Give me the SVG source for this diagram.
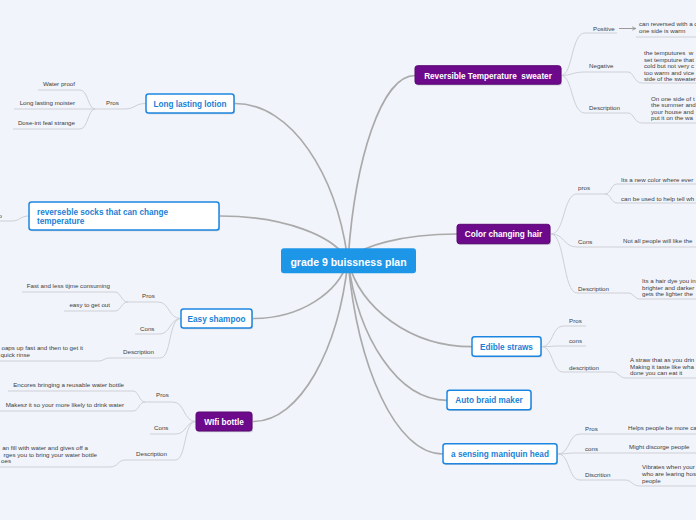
<svg xmlns="http://www.w3.org/2000/svg" width="696" height="520" viewBox="0 0 696 520">
<defs>
<marker id="arr" viewBox="0 0 10 10" refX="9" refY="5" markerWidth="5" markerHeight="5" orient="auto"><path d="M0,1 L9,5 L0,9" fill="none" stroke="#9a9a9a" stroke-width="1.5"/></marker>
</defs>
<style>
.main{fill:none;stroke:#aaaaaa;stroke-width:1.7}
.br{fill:none;stroke:#cdd0d6;stroke-width:1}
.sh{fill:#b9bdc8;opacity:.7}
.pur{fill:#6d0a8b;stroke:#5a0873;stroke-width:1}
.blu{fill:#ffffff;stroke:#1d86e0;stroke-width:1.5}
.root{fill:#1e96e8}
.tw{font-family:"Liberation Sans",Arial,sans-serif;font-weight:bold;font-size:8.2px;fill:#ffffff;text-anchor:middle}
.tb{font-family:"Liberation Sans",Arial,sans-serif;font-weight:bold;font-size:8.2px;fill:#1b7fd6;text-anchor:middle}
.lb{font-family:"Liberation Sans",Arial,sans-serif;font-size:6.2px;fill:#3c3c3c}
.e{text-anchor:end}
</style>
<rect x="0" y="0" width="696" height="520" fill="#f2f4fb"/>
<g id="connectors">
<path class="main" d="M348,261 C354.7,159 381.5,75.5 415,75.5"/>
<path class="main" d="M348,261 C359,246 402.5,234 457,234"/>
<path class="main" d="M348,261 C360.4,308 410,346.7 472,346.7"/>
<path class="main" d="M348,261 C358,337.5 397.5,400.3 447,400.3"/>
<path class="main" d="M348,261 C357.5,367 395.5,454 443,454"/>
<path class="main" d="M348,261 C336.7,174 291.5,103.5 235,103.5"/>
<path class="main" d="M348,261 C335,236 284,216 220,216"/>
<path class="main" d="M348,261 C338.5,292.6 300.5,318.5 253,318.5"/>
<path class="main" d="M348,261 C338.5,349 300.5,421.5 253,421.5"/>
<path class="br" d="M561,75.5 C573,75.5 571,33 585,33 L617,33"/>
<path d="M619,28.5 L636,28.5" marker-end="url(#arr)" stroke="#9a9a9a" fill="none" stroke-width="1"/>
<path class="br" d="M636,37 L696,37"/>
<path class="br" d="M561,75.5 C572,75.5 572,72 585,72 L628,72 C634,72 634,83 642,83 L696,83"/>
<path class="br" d="M561,75.5 C573,75.5 571,113 585,113 L628,113 C634,113 634,123 642,123 L696,123"/>
<path class="br" d="M551,234 C565,234 563,194 577,194 L605,194 C611,194 611,184 617,184 L696,184"/>
<path class="br" d="M605,194 C611,194 611,203 617,203 L696,203"/>
<path class="br" d="M551,234 C565,234 563,247 577,247 L696,247"/>
<path class="br" d="M551,234 C565,234 563,293 577,293 L628,293 C634,293 634,299 640,299 L696,299"/>
<path class="br" d="M542,346.7 C553,346.7 552,326 563,326 L586,326"/>
<path class="br" d="M542,346.7 C550,346.7 552,346 560,346 L586,346"/>
<path class="br" d="M542,346.7 C553,346.7 552,372 563,372 L612,372 C619,372 619,378 626,378 L696,378"/>
<path class="br" d="M558,454 C570,454 568,434 580,434 L696,434"/>
<path class="br" d="M558,454 C566,454 568,453 576,453 L696,453"/>
<path class="br" d="M558,454 C570,454 568,480 580,480 L625,480 C632,480 632,486 640,486 L696,486"/>
<path class="br" d="M146,103.5 C134,103.5 136,109 124,109 L95,109"/>
<path class="br" d="M95,109 C88,109 88,90 80,90 L38,90"/>
<path class="br" d="M95,109 L14,109"/>
<path class="br" d="M95,109 C88,109 88,129 80,129 L13,129"/>
<path class="br" d="M29,216 C20,216 20,221 12,221 L0,221"/>
<path class="br" d="M181,318.5 C168,318.5 170,302 158,302 L128,302"/>
<path class="br" d="M128,302 C121,302 121,292 115,292 L22,292"/>
<path class="br" d="M128,302 C121,302 121,311 115,311 L64,311"/>
<path class="br" d="M181,318.5 C170,318.5 170,334 160,334 L135,334"/>
<path class="br" d="M181,318.5 C168,318.5 172,358 160,358 L110,358 C104,358 104,361 98,361 L0,361"/>
<path class="br" d="M196,421.5 C183,421.5 185,402 173,402 L145,402"/>
<path class="br" d="M145,402 C139,402 139,391 133,391 L8,391"/>
<path class="br" d="M145,402 C139,402 139,411 133,411 L0,411"/>
<path class="br" d="M196,421.5 C186,421.5 186,434 176,434 L150,434"/>
<path class="br" d="M196,421.5 C183,421.5 187,460 175,460 L125,460 C118,460 118,467 110,467 L0,467"/>
</g>
<g id="root">
<rect x="281" y="248.3" width="135" height="25" rx="3" class="root"/>
<text x="348.5" y="265.8" class="tw" style="font-size:10.5px">grade 9 buissness plan</text>
</g>
<g id="sweater">
<rect x="416" y="67" width="146" height="18.5" rx="2.5" class="sh"/>
<rect x="415" y="65.7" width="146" height="18.5" rx="2.5" class="pur"/>
<text x="488" y="78.6" class="tw" xml:space="preserve">Reversible Temperature  sweater</text>
<text x="593" y="31" class="lb">Positive</text>
<text x="639" y="26" class="lb">can reversed with a c</text>
<text x="639" y="33" class="lb">one side is warm</text>
<text x="589" y="68" class="lb">Negative</text>
<text x="644" y="54.5" class="lb" xml:space="preserve">the temputures  w</text>
<text x="644" y="61.5" class="lb">set temputure that</text>
<text x="644" y="68" class="lb">cold but not very c</text>
<text x="644" y="74.5" class="lb">too warm and vice</text>
<text x="644" y="81" class="lb">side of the sweater</text>
<text x="589" y="110" class="lb">Description</text>
<text x="651" y="100.5" class="lb">On one side of t</text>
<text x="651" y="107" class="lb">the summer and</text>
<text x="651" y="113.5" class="lb">your house and</text>
<text x="651" y="120" class="lb">put it on the wa</text>
</g>
<g id="hair">
<rect x="458" y="225.6" width="93" height="19.4" rx="2.5" class="sh"/>
<rect x="457" y="224.3" width="93" height="19.4" rx="2.5" class="pur"/>
<text x="503.5" y="237.2" class="tw">Color changing hair</text>
<text x="578" y="190" class="lb">pros</text>
<text x="621" y="181.5" class="lb">Its a new color where ever</text>
<text x="621" y="200.5" class="lb">can be used to help tell wh</text>
<text x="578" y="244" class="lb">Cons</text>
<text x="623" y="243" class="lb">Not all people will like the</text>
<text x="578" y="290.5" class="lb">Description</text>
<text x="642" y="283" class="lb">Its a hair dye you in</text>
<text x="642" y="289.5" class="lb">brighter and darker</text>
<text x="642" y="296" class="lb">gets the lighter the</text>
</g>
<g id="straws">
<rect x="473" y="338" width="69" height="19.5" rx="2.5" class="sh"/>
<rect x="472" y="336.7" width="69" height="19.5" rx="2.5" class="blu"/>
<text x="506.5" y="349.8" class="tb">Edible straws</text>
<text x="569" y="323" class="lb">Pros</text>
<text x="569" y="342.5" class="lb">cons</text>
<text x="569" y="369.5" class="lb">description</text>
<text x="630" y="362" class="lb">A straw that as you drin</text>
<text x="630" y="368.5" class="lb">Making it taste like wha</text>
<text x="630" y="375" class="lb">done you can eat it</text>
</g>
<g id="braid">
<rect x="448" y="391.6" width="84" height="19.5" rx="2.5" class="sh"/>
<rect x="447" y="390.3" width="84" height="19.5" rx="2.5" class="blu"/>
<text x="489" y="403.3" class="tb">Auto braid maker</text>
</g>
<g id="sensing">
<rect x="444" y="445" width="114" height="20" rx="2.5" class="sh"/>
<rect x="443" y="443.7" width="114" height="20" rx="2.5" class="blu"/>
<text x="500" y="457" class="tb">a sensing maniquin head</text>
<text x="585" y="430.5" class="lb">Pros</text>
<text x="628" y="430" class="lb">Helps people be more ca</text>
<text x="585" y="450.5" class="lb">cons</text>
<text x="629" y="449" class="lb">Might discorge people</text>
<text x="585" y="476.5" class="lb">Discrition</text>
<text x="642" y="469" class="lb">Vibrates when your</text>
<text x="642" y="475.5" class="lb">who are learing hos</text>
<text x="642" y="482.5" class="lb">people</text>
</g>
<g id="lotion">
<rect x="147" y="95.3" width="88" height="19" rx="2.5" class="sh"/>
<rect x="146" y="94" width="88" height="19" rx="2.5" class="blu"/>
<text x="190" y="106.5" class="tb">Long lasting lotion</text>
<text x="106" y="105.3" class="lb">Pros</text>
<text x="75" y="86.3" class="lb e">Water proof</text>
<text x="75" y="105.3" class="lb e">Long lasting moister</text>
<text x="75" y="125.3" class="lb e">Dose-int feal strange</text>
</g>
<g id="socks">
<rect x="30" y="203.3" width="190" height="28" rx="2.5" class="sh"/>
<rect x="29" y="202" width="190" height="28" rx="2.5" class="blu"/>
<text x="37" y="214.8" class="tb" style="text-anchor:start">reverseble socks that can change</text>
<text x="37" y="223.8" class="tb" style="text-anchor:start">temperature</text>
<text x="2" y="217.5" class="lb e">o</text>
</g>
<g id="shampoo">
<rect x="182" y="310.3" width="71" height="19" rx="2.5" class="sh"/>
<rect x="181" y="309" width="71" height="19" rx="2.5" class="blu"/>
<text x="216.5" y="321.5" class="tb">Easy shampoo</text>
<text x="142" y="298" class="lb">Pros</text>
<text x="110" y="288.3" class="lb e">Fast and less tijme consuming</text>
<text x="110" y="307.3" class="lb e">easy to get out</text>
<text x="140" y="331" class="lb">Cons</text>
<text x="123" y="354.3" class="lb">Description</text>
<text x="83" y="350.3" class="lb e">oaps up fast and then to get it</text>
<text x="30" y="357" class="lb e">quick rinse</text>
</g>
<g id="wifi">
<rect x="197" y="413.3" width="56" height="19" rx="2.5" class="sh"/>
<rect x="196" y="412" width="56" height="19" rx="2.5" class="pur"/>
<text x="224" y="424.6" class="tw">WIfi bottle</text>
<text x="156" y="397.3" class="lb">Pros</text>
<text x="124" y="387.3" class="lb e">Encores bringing a reusable water bottle</text>
<text x="124" y="407.3" class="lb e">Makesz it so your more likely to drink water</text>
<text x="154" y="430.3" class="lb">Cons</text>
<text x="167" y="456.3" class="lb e">Description</text>
<text x="88" y="450.3" class="lb e">an fill with water and gives off a</text>
<text x="97" y="456.6" class="lb e">rges you to bring your water bottle</text>
<text x="11" y="463" class="lb e">oes</text>
</g>
</svg>
